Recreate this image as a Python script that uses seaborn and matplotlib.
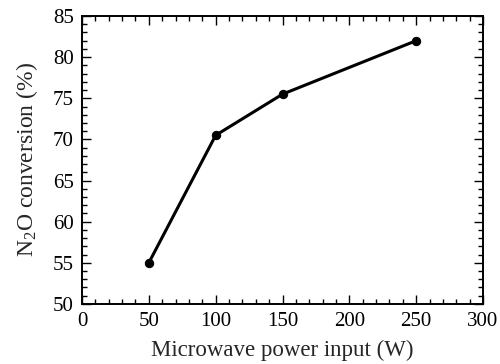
import pandas as pd
import matplotlib
matplotlib.use("Agg")
import matplotlib.pyplot as plt
import seaborn as sns
from matplotlib.ticker import MultipleLocator

# Veri
power_w = [50, 100, 150, 250]
conversion_pct = [55.0, 70.5, 75.5, 82.0]

x_ticks = [0, 50, 100, 150, 200, 250, 300]
y_ticks = [50, 55, 60, 65, 70, 75, 80, 85]

sns.set_style("ticks")
plt.rcParams["font.family"] = ["Liberation Serif", "DejaVu Serif"]
plt.rcParams["mathtext.fontset"] = "custom"
plt.rcParams["mathtext.rm"] = "Liberation Serif"
plt.rcParams["mathtext.it"] = "Liberation Serif:italic"

df = pd.DataFrame({"power": power_w, "conv": conversion_pct})

fig = plt.figure(figsize=(5.0, 3.64), dpi=100)
ax = fig.add_axes([0.164, 0.165, 0.802, 0.791])

sns.lineplot(data=df, x="power", y="conv", ax=ax, color="black",
             linewidth=2.2, marker="o", markersize=6,
             markeredgecolor="black", markerfacecolor="black")

ax.set_xlim(0, 300)
ax.set_ylim(50, 85)
ax.set_xticks(x_ticks)
ax.set_yticks(y_ticks)
ax.xaxis.set_minor_locator(MultipleLocator(10))
ax.yaxis.set_minor_locator(MultipleLocator(1))

ax.tick_params(which="both", direction="in", top=True, right=True,
               width=1.0, labelsize=15, colors="black")
ax.tick_params(which="major", length=6.5, pad=6)
ax.tick_params(which="minor", length=3.6)

for side in ax.spines.values():
    side.set_linewidth(1.4)
    side.set_color("black")

ax.set_xlabel("Microwave power input (W)", fontsize=16.5, labelpad=6)
ax.set_ylabel(r"N$\mathregular{_2}$O conversion (%)", fontsize=17, labelpad=9)

fig.savefig("out.png", dpi=100)
